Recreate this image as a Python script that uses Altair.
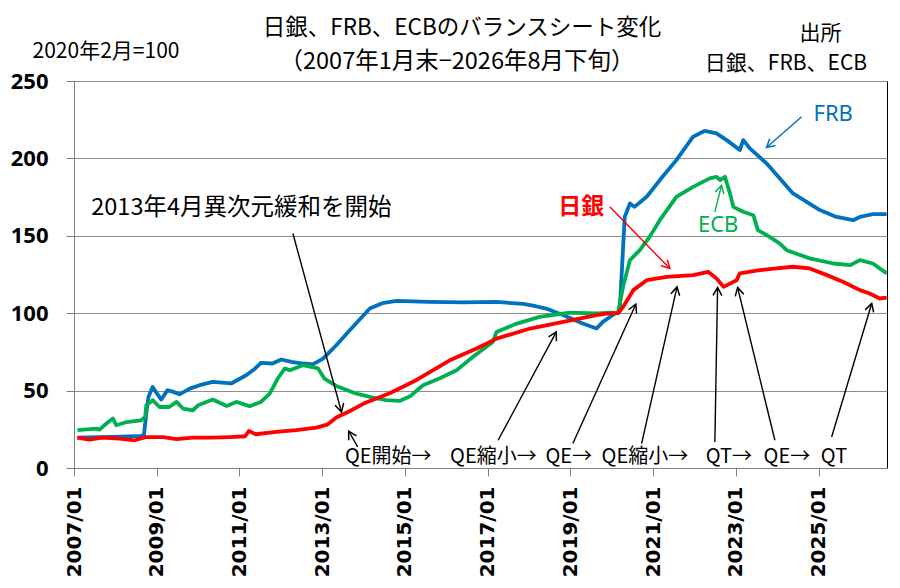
import altair as alt
import pandas as pd

# ---------------- data ----------------
frb_dates = ["2007-01-31", "2007-08-01", "2008-03-01", "2008-08-20", "2008-09-10", "2008-10-01",
             "2008-10-20", "2008-11-25", "2008-12-25", "2009-02-10", "2009-04-05", "2009-05-15",
             "2009-07-20", "2009-10-20", "2010-01-15", "2010-05-10", "2010-10-20", "2011-03-01",
             "2011-05-15", "2011-07-10", "2011-10-20", "2012-01-05", "2012-04-05", "2012-07-15",
             "2012-10-10", "2013-01-08", "2013-05-05", "2013-09-01", "2014-02-25", "2014-06-15",
             "2014-10-20", "2015-08-01", "2016-06-01", "2017-03-15", "2017-11-10", "2018-03-01",
             "2018-06-01", "2018-11-01", "2019-04-20", "2019-08-20", "2019-10-15", "2020-01-30",
             "2020-03-10", "2020-03-20", "2020-04-25", "2020-06-10", "2020-07-20", "2020-11-05",
             "2021-03-01", "2021-07-25", "2021-12-20", "2022-04-01", "2022-07-15", "2022-10-12",
             "2023-02-05", "2023-03-08", "2023-05-05", "2023-09-29", "2024-05-20", "2025-01-12",
             "2025-06-08", "2025-11-02", "2026-01-01", "2026-04-25", "2026-08-25"]
frb_vals = [19.6, 20.0, 20.3, 20.7, 21.5, 36.0,
            46.0, 52.4, 49.0, 44.2, 50.2, 49.5,
            47.6, 51.3, 53.5, 55.6, 54.6, 59.9,
            64.0, 67.9, 67.5, 70.1, 68.5, 67.5,
            67.0, 70.7, 79.3, 89.0, 103.0, 106.5,
            108.0, 107.3, 107.0, 107.3, 106.0, 104.5,
            103.0, 98.7, 93.3, 90.1, 94.4, 99.8,
            101.0, 112.7, 162.2, 170.9, 168.7, 175.2,
            186.0, 198.9, 214.0, 217.8, 216.2, 211.8,
            205.4, 211.8, 206.5, 196.8, 177.4, 166.6,
            162.2, 160.1, 162.2, 164.0, 164.0]

ecb_dates = ["2007-01-31", "2007-07-15", "2007-08-15", "2007-09-25", "2007-12-10", "2008-01-10",
             "2008-04-10", "2008-08-15", "2008-09-20", "2008-10-01", "2008-11-25", "2009-01-25",
             "2009-04-20", "2009-06-25", "2009-08-20", "2009-11-15", "2010-01-01", "2010-05-10",
             "2010-09-10", "2010-12-05", "2011-04-01", "2011-07-10", "2011-09-25", "2011-12-05",
             "2012-02-05", "2012-03-20", "2012-07-15", "2012-11-25", "2013-01-20", "2013-05-05",
             "2013-10-30", "2014-03-25", "2014-07-20", "2014-11-15", "2015-02-15", "2015-06-10",
             "2015-11-01", "2016-04-01", "2016-08-25", "2017-02-15", "2017-03-20", "2017-09-15",
             "2018-04-05", "2018-12-28", "2019-08-20", "2020-01-10", "2020-02-25", "2020-04-10",
             "2020-06-10", "2020-09-05", "2020-12-01", "2021-03-01", "2021-07-25", "2021-12-20",
             "2022-05-15", "2022-07-15", "2022-08-15", "2022-09-27", "2022-11-10", "2022-12-10",
             "2023-03-08", "2023-06-05", "2023-07-15", "2023-10-27", "2024-01-25", "2024-03-25",
             "2024-10-15", "2025-05-10", "2025-10-05", "2026-01-01", "2026-04-25", "2026-08-25"]
ecb_vals = [24.4, 25.5, 24.8, 27.6, 32.0, 27.6,
            29.7, 30.8, 33.0, 40.5, 43.8, 39.4,
            39.4, 42.7, 38.4, 37.3, 40.5, 44.2,
            40.1, 42.7, 39.9, 42.7, 48.0, 57.8,
            64.3, 63.2, 66.4, 64.3, 57.8, 53.0,
            48.0, 45.5, 43.8, 43.3, 46.3, 53.5,
            57.8, 63.2, 71.8, 81.4, 87.9, 93.3,
            97.6, 100.4, 99.8, 100.4, 100.0, 117.0,
            134.3, 140.7, 149.3, 160.1, 175.2, 181.6,
            187.1, 188.1, 186.0, 188.1, 177.4, 168.7,
            165.5, 163.3, 153.7, 149.3, 145.0, 140.7,
            135.4, 132.1, 131.0, 134.3, 132.1, 125.7]

boj_dates = ["2007-01-31", "2007-05-15", "2007-09-10", "2008-02-05", "2008-06-20", "2008-10-01",
             "2009-02-25", "2009-06-25", "2009-11-15", "2010-05-10", "2010-10-10", "2011-02-20",
             "2011-03-25", "2011-05-25", "2011-11-20", "2012-05-15", "2012-11-10", "2013-02-20",
             "2013-05-05", "2013-08-25", "2014-01-01", "2014-08-15", "2015-04-10", "2016-02-01",
             "2016-09-25", "2017-03-20", "2018-01-10", "2018-10-30", "2019-08-20", "2019-11-15",
             "2020-02-25", "2020-04-10", "2020-07-10", "2020-11-05", "2021-05-01", "2021-12-20",
             "2022-05-01", "2022-07-15", "2022-09-15", "2023-01-08", "2023-02-05", "2023-07-30",
             "2023-12-28", "2024-05-20", "2024-10-15", "2025-03-15", "2025-08-08", "2026-01-01",
             "2026-03-28", "2026-06-25", "2026-08-25"]
boj_vals = [19.6, 18.3, 19.6, 19.0, 17.9, 20.0,
            20.0, 18.6, 19.6, 19.6, 20.0, 20.5,
            23.9, 21.8, 23.3, 24.4, 26.1, 28.2,
            32.6, 36.5, 41.6, 48.1, 56.7, 69.6,
            77.2, 83.6, 90.1, 94.4, 98.7, 99.8,
            100.0, 104.0, 114.9, 121.3, 123.5, 124.6,
            126.7, 122.4, 117.0, 121.3, 125.7, 127.8,
            128.9, 130.0, 128.9, 124.6, 120.2, 114.9,
            112.7, 109.5, 110.1]

series_names = ["FRB", "ECB", "日銀"]
series_colors = ["#0070C0", "#00B050", "#FF0000"]

# annotation arrows: tail -> tip
arrow_tail_dates = ["2013-11-10", "2017-04-03", "2019-01-23", "2020-09-21", "2022-06-30",
                    "2023-12-12", "2025-04-26", "2012-04-17", "2019-12-15", "2024-08-04", "2022-06-30"]
arrow_tail_vals = [13.6, 17.9, 15.8, 15.8, 16.8, 17.9, 20.0, 151.5, 168.7, 226.9, 165.5]
arrow_tip_dates = ["2013-08-22", "2018-08-30", "2020-08-01", "2021-07-31", "2022-07-24",
                   "2023-01-17", "2026-04-15", "2013-06-20", "2021-05-28", "2023-09-29", "2022-08-28"]
arrow_tip_vals = [23.9, 87.9, 105.8, 117.0, 116.6, 116.6, 106.3, 36.2, 128.9, 207.1, 182.7]
arrow_colors = ["black"] * 8 + ["#FF0000", "#0070C0", "#00B050"]
arrow_angles = [330.6, 28.3, 24.4, 12.8, 1.0, 346.3, 16.7, 164.8, 135.8, 228.8, 14.1]

# policy labels along the bottom
policy_labels = ["QE開始→", "QE縮小→", "QE→", "QE縮小→", "QT→", "QE→", "QT"]
policy_dates = ["2014-08-07", "2017-02-20", "2018-12-18", "2020-10-20", "2022-11-01",
                "2024-03-27", "2025-05-17"]
policy_val = 6.9

tick_years = list(range(2007, 2026, 2))
y_ticks = [0, 50, 100, 150, 200, 250]

# ---------------- tables ----------------
lines_df = pd.concat([
    pd.DataFrame({"date": frb_dates, "value": frb_vals, "series": "FRB"}),
    pd.DataFrame({"date": ecb_dates, "value": ecb_vals, "series": "ECB"}),
    pd.DataFrame({"date": boj_dates, "value": boj_vals, "series": "日銀"}),
], ignore_index=True)

arrows_df = pd.DataFrame({
    "d1": arrow_tail_dates, "v1": arrow_tail_vals,
    "d2": arrow_tip_dates, "v2": arrow_tip_vals,
    "col": arrow_colors, "ang": arrow_angles,
})

policy_df = pd.DataFrame({"date": policy_dates, "value": policy_val, "label": policy_labels})

JP = "Noto Sans CJK JP"

x_scale = alt.Scale(type="utc", domain=[
    alt.DateTime(year=2007, month=1, date=1, utc=True),
    alt.DateTime(year=2026, month=8, date=28, utc=True)])
y_scale = alt.Scale(domain=[0, 250], nice=False)

x_axis = alt.Axis(values=[alt.DateTime(year=y, month=1, date=1, utc=True) for y in tick_years],
                  labelExpr="utcFormat(datum.value, '%Y/%m')", labelAngle=270,
                  labelFont="DejaVu Sans", labelFontWeight="bold", labelFontSize=20,
                  labelColor="black", labelPadding=10, labelFlush=False, labelOverlap=False,
                  tickSize=8, tickColor="#808080", domainColor="#808080", grid=False, title=None)
y_axis = alt.Axis(values=y_ticks, labelFont="Open Sans", labelFontWeight="bold", labelFontSize=22,
                  labelColor="black", labelPadding=18, tickSize=8, tickColor="#808080",
                  domainColor="#808080", gridColor="#8c8c8c", gridWidth=1.2, title=None)

lines = alt.Chart(lines_df).mark_line(strokeWidth=3.8, strokeJoin="round").encode(
    x=alt.X("date:T", scale=x_scale, axis=x_axis),
    y=alt.Y("value:Q", scale=y_scale, axis=y_axis),
    color=alt.Color("series:N", scale=alt.Scale(domain=series_names, range=series_colors), legend=None),
    detail="series:N",
)

arrow_lines = alt.Chart(arrows_df).mark_rule(strokeWidth=1.4).encode(
    x="d1:T", y="v1:Q", x2="d2:T", y2="v2:Q",
    color=alt.Color("col:N", scale=None),
)

arrow_heads = alt.Chart(arrows_df).mark_point(
    shape="M-0.55,1 L0,0 L0.55,1", size=260, filled=False, strokeWidth=1.5, opacity=1
).encode(
    x="d2:T", y="v2:Q",
    angle=alt.Angle("ang:Q", scale=None),
    stroke=alt.Stroke("col:N", scale=None),
)

policy_text = alt.Chart(policy_df).mark_text(font=JP, fontSize=20, color="black",
                                             align="center", baseline="middle").encode(
    x="date:T", y="value:Q", text="label:N")


def in_text(txt, date, val, size, color="black", weight="normal", font=JP):
    return alt.Chart(pd.DataFrame({"date": [date], "value": [val], "t": [txt]})).mark_text(
        font=font, fontSize=size, color=color, fontWeight=weight, align="center", baseline="middle"
    ).encode(x="date:T", y="value:Q", text="t:N")


def out_text(txt, px, py, size, weight="normal"):
    return alt.Chart(pd.DataFrame({"t": [txt]})).mark_text(
        font=JP, fontSize=size, color="black", fontWeight=weight, align="center", baseline="middle"
    ).encode(x=alt.value(px), y=alt.value(py), text="t:N")


labels = [
    in_text("2013年4月異次元緩和を開始", "2011-01-18", 167.7, 23.5),
    in_text("日銀", "2019-04-08", 168.7, 23, color="#FF0000", weight="bold"),
    in_text("FRB", "2025-05-10", 228.6, 22, color="#0070C0", font="Noto Sans"),
    in_text("ECB", "2022-07-29", 156.9, 22, color="#00B050", font="Noto Sans"),
    out_text("日銀、FRB、ECBのバランスシート変化", 388, -53, 22.5),
    out_text("（2007年1月末−2026年8月下旬）", 383, -19, 23.5),
    out_text("2020年2月=100", 32, -29.5, 21),
    out_text("出所", 746.5, -47, 21),
    out_text("日銀、FRB、ECB", 712, -17, 21),
]

chart = alt.layer(lines, arrow_lines, arrow_heads, policy_text, *labels).properties(
    width=813, height=387,
    padding={"left": 66, "top": 73, "right": 5, "bottom": 110},
    autosize=alt.AutoSizeParams(type="none"),
    background="white",
).configure_view(stroke="black", strokeWidth=1)

chart.save("out.html", embed_options={"renderer": "svg", "actions": False})
